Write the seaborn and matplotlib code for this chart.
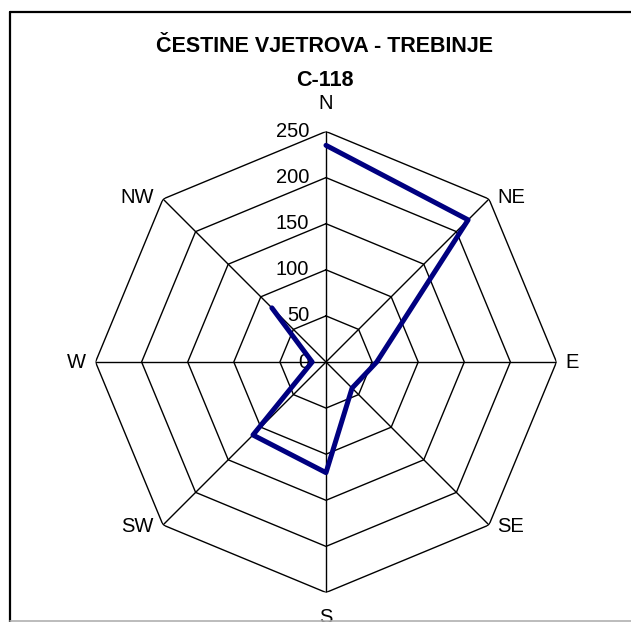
import numpy as np
import matplotlib
matplotlib.use("Agg")
import matplotlib.pyplot as plt
import seaborn as sns
from matplotlib.lines import Line2D

# ---- data ----
directions = ["N", "NE", "E", "SE", "S", "SW", "W", "NW"]
frequencies = [235, 218, 55, 40, 120, 112, 15, 83]
radial_ticks = [0, 50, 100, 150, 200, 250]
title_line1 = "ČESTINE VJETROVA - TREBINJE"
title_line2 = "C-118"

sns.set_theme(style="white")
plt.rcParams["font.family"] = ["Liberation Sans", "DejaVu Sans"]
plt.rcParams["text.color"] = "black"

W, H = 631, 622
fig = plt.figure(figsize=(W / 100, H / 100), dpi=100)
fig.patch.set_facecolor("white")

# frame (top, left black; bottom grey)
fig.add_artist(Line2D([10 / W, 10 / W], [0, 1 - 12 / H], color="black", lw=1.6,
                      transform=fig.transFigure))
fig.add_artist(Line2D([10 / W, 1], [1 - 12 / H, 1 - 12 / H], color="black", lw=1.6,
                      transform=fig.transFigure))
fig.add_artist(Line2D([10 / W, 1], [1 - 621 / H, 1 - 621 / H], color="#b0b0b0", lw=1.2,
                      transform=fig.transFigure))

cx, cy, R = 326, 362, 230.5
ax = fig.add_axes([(cx - R) / W, (H - cy - R) / H, 2 * R / W, 2 * R / H], projection="polar")
ax.set_theta_offset(np.pi / 2)
ax.set_theta_direction(-1)
ax.set_ylim(0, radial_ticks[-1])
ax.grid(False)
ax.spines["polar"].set_visible(False)
ax.set_xticks([])
ax.set_yticks([])
ax.patch.set_alpha(0)

n = len(directions)
angles = np.arange(n) * 2 * np.pi / n
closed_angles = np.append(angles, angles[0])

# octagonal grid
for r in radial_ticks[1:]:
    ax.plot(closed_angles, [r] * (n + 1), color="black", lw=1.0, zorder=1)
for a in angles:
    ax.plot([a, a], [0, radial_ticks[-1]], color="black", lw=1.0, zorder=1)

# data series
vals = frequencies + [frequencies[0]]
sns.lineplot(x=closed_angles, y=vals, ax=ax, sort=False, color="#000080",
             lw=3.6, zorder=3, legend=False)
ax.set_xlabel("")
ax.set_ylabel("")

# radial tick labels
for r in radial_ticks:
    ax.annotate(str(r), xy=(0, r), xytext=(-17, 0), textcoords="offset pixels",
                ha="right", va="center", fontsize=14.5, color="black", zorder=2)

# category labels
offsets = {
    "N": (0, 28, "center"), "NE": (8, 2, "left"), "E": (9, 0, "left"),
    "SE": (8, -2, "left"), "S": (0, -25, "center"), "SW": (-9, -2, "right"),
    "W": (-10, 0, "right"), "NW": (-9, 2, "right"),
}
for a, d in zip(angles, directions):
    dx, dy, ha = offsets[d]
    ax.annotate(d, xy=(a, radial_ticks[-1]), xytext=(dx, dy), textcoords="offset pixels",
                ha=ha, va="center", fontsize=14.5, color="black", annotation_clip=False)

fig.text(325 / W, 1 - 46 / H, title_line1, ha="center", va="center",
         fontsize=15.5, fontweight="bold", color="black")
fig.text(325 / W, 1 - 80 / H, title_line2, ha="center", va="center",
         fontsize=15.5, fontweight="bold", color="black")

fig.savefig("out.png", dpi=100, facecolor="white")
